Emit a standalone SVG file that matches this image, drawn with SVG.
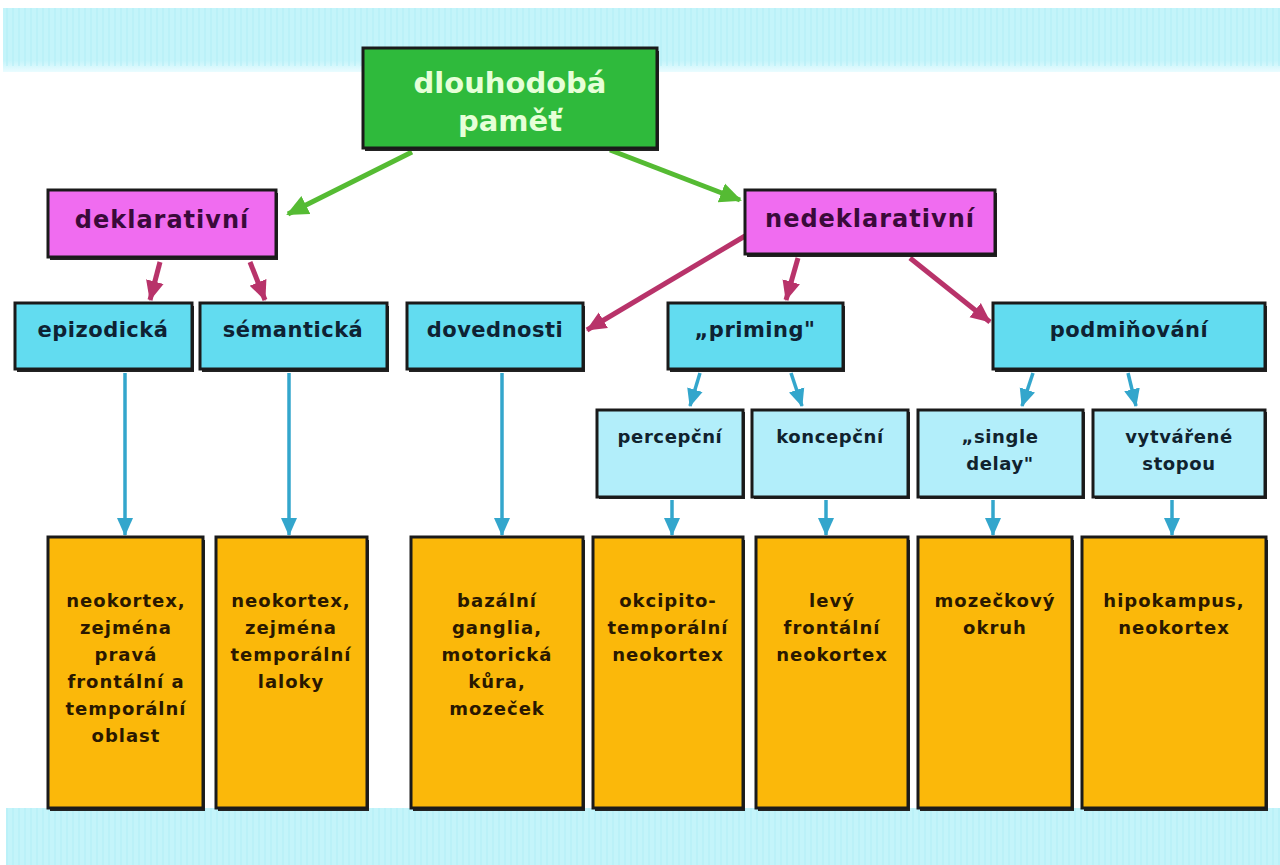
<svg xmlns="http://www.w3.org/2000/svg" width="1280" height="865" viewBox="0 0 1280 865">
<defs>
<style>
.band{fill:#c4f4fa}
.box{stroke:#1a1a1a;stroke-width:3}
.sh{fill:#222}
.g{fill:#2fba3c}
.m{fill:#f06cf0}
.c{fill:#62dcf0}
.lc{fill:#b2eefa}
.o{fill:#fbb80a}
text{font-family:"DejaVu Sans","Liberation Sans",sans-serif;font-weight:bold;text-anchor:middle}
.tg{font-size:29px;fill:#e6ffd8}
.tm{font-size:24px;fill:#3a0a3a;letter-spacing:1px}
.tc{font-size:21px;fill:#0e2233;letter-spacing:0.5px}
.tl{font-size:18px;fill:#10222e;letter-spacing:0.6px}
.to{font-size:18px;fill:#2a1800;letter-spacing:1px}
.ag{stroke:#55bb33;stroke-width:5;fill:none}
.am{stroke:#b8336a;stroke-width:5;fill:none}
.ab{stroke:#33a6cc;stroke-width:3.5;fill:none}
</style>
<marker id="hg" markerUnits="userSpaceOnUse" markerWidth="24" markerHeight="24" viewBox="0 0 24 24" refX="20" refY="12" orient="auto"><path d="M0,2 L22,12 L0,22 Z" fill="#55bb33"/></marker>
<marker id="hm" markerUnits="userSpaceOnUse" markerWidth="22" markerHeight="22" viewBox="0 0 22 22" refX="19" refY="11" orient="auto"><path d="M0,2 L20,11 L0,20 Z" fill="#b8336a"/></marker>
<marker id="hb" markerUnits="userSpaceOnUse" markerWidth="20" markerHeight="20" viewBox="0 0 20 20" refX="17" refY="10" orient="auto"><path d="M0,2 L18,10 L0,18 Z" fill="#33a6cc"/></marker>
<linearGradient id="fadeT" x1="0" y1="0" x2="0" y2="1"><stop offset="0" stop-color="#c4f4fa"/><stop offset="0.82" stop-color="#c4f4fa"/><stop offset="1" stop-color="#eafcff"/></linearGradient>
<pattern id="stripes" width="6" height="10" patternUnits="userSpaceOnUse"><rect x="0" width="2" height="10" fill="#b6eef6" opacity="0.6"/></pattern>
</defs>
<rect width="1280" height="865" fill="#ffffff"/>
<g id="bands">
<rect x="3" y="8" width="1277" height="64" fill="url(#fadeT)"/>
<rect x="3" y="8" width="1277" height="58" fill="url(#stripes)"/>
<rect x="6" y="808" width="1274" height="57" class="band"/>
<rect x="6" y="808" width="1274" height="57" fill="url(#stripes)"/>
</g>
<g id="connectors">
<path class="ag" d="M412,152 L288,214" marker-end="url(#hg)"/>
<path class="ag" d="M610,150 L740,200" marker-end="url(#hg)"/>
<path class="am" d="M160,262 L150,300" marker-end="url(#hm)"/>
<path class="am" d="M250,262 L265,300" marker-end="url(#hm)"/>
<path class="am" d="M745,236 L587,330" marker-end="url(#hm)"/>
<path class="am" d="M798,258 L786,300" marker-end="url(#hm)"/>
<path class="am" d="M910,258 L990,322" marker-end="url(#hm)"/>
<path class="ab" d="M125,373 L125,535" marker-end="url(#hb)"/>
<path class="ab" d="M289,373 L289,535" marker-end="url(#hb)"/>
<path class="ab" d="M502,373 L502,535" marker-end="url(#hb)"/>
<path class="ab" d="M700,373 L690,406" marker-end="url(#hb)"/>
<path class="ab" d="M791,373 L802,406" marker-end="url(#hb)"/>
<path class="ab" d="M1033,373 L1022,406" marker-end="url(#hb)"/>
<path class="ab" d="M1128,373 L1136,406" marker-end="url(#hb)"/>
<path class="ab" d="M672,500 L672,535" marker-end="url(#hb)"/>
<path class="ab" d="M826,500 L826,535" marker-end="url(#hb)"/>
<path class="ab" d="M993,500 L993,535" marker-end="url(#hb)"/>
<path class="ab" d="M1172,500 L1172,535" marker-end="url(#hb)"/>
</g>
<g id="n-dlouhodoba">
<rect x="365" y="51" width="294" height="100" class="sh"/>
<rect x="363" y="48" width="294" height="100" class="box g"/>
<text class="tg" x="510" y="93">dlouhodobá</text>
<text class="tg" x="510" y="131">paměť</text>
</g>
<g id="n-deklarativni">
<rect x="50" y="193" width="228" height="67" class="sh"/>
<rect x="48" y="190" width="228" height="67" class="box m"/>
<text class="tm" x="162" y="228">deklarativní</text>
</g>
<g id="n-nedeklarativni">
<rect x="747" y="193" width="250" height="64" class="sh"/>
<rect x="745" y="190" width="250" height="64" class="box m"/>
<text class="tm" x="870" y="227">nedeklarativní</text>
</g>
<g id="n-epizodicka">
<rect x="17" y="306" width="177" height="66" class="sh"/>
<rect x="15" y="303" width="177" height="66" class="box c"/>
<text class="tc" x="103" y="337">epizodická</text>
</g>
<g id="n-semanticka">
<rect x="202" y="306" width="187" height="66" class="sh"/>
<rect x="200" y="303" width="187" height="66" class="box c"/>
<text class="tc" x="293" y="337">sémantická</text>
</g>
<g id="n-dovednosti">
<rect x="409" y="306" width="176" height="66" class="sh"/>
<rect x="407" y="303" width="176" height="66" class="box c"/>
<text class="tc" x="495" y="337">dovednosti</text>
</g>
<g id="n-priming">
<rect x="670" y="306" width="175" height="66" class="sh"/>
<rect x="668" y="303" width="175" height="66" class="box c"/>
<text class="tc" x="755" y="337">„priming"</text>
</g>
<g id="n-podminovani">
<rect x="995" y="306" width="272" height="66" class="sh"/>
<rect x="993" y="303" width="272" height="66" class="box c"/>
<text class="tc" x="1129" y="337">podmiňování</text>
</g>
<g id="n-percepcni">
<rect x="599" y="412" width="146" height="87" class="sh"/>
<rect x="597" y="410" width="146" height="87" class="box lc"/>
<text class="tl" x="670" y="443">percepční</text>
</g>
<g id="n-koncepcni">
<rect x="754" y="412" width="156" height="87" class="sh"/>
<rect x="752" y="410" width="156" height="87" class="box lc"/>
<text class="tl" x="830" y="443">koncepční</text>
</g>
<g id="n-single-delay">
<rect x="920" y="412" width="165" height="87" class="sh"/>
<rect x="918" y="410" width="165" height="87" class="box lc"/>
<text class="tl" x="1000" y="443">„single</text>
<text class="tl" x="1000" y="470">delay"</text>
</g>
<g id="n-vytvarene">
<rect x="1095" y="412" width="172" height="87" class="sh"/>
<rect x="1093" y="410" width="172" height="87" class="box lc"/>
<text class="tl" x="1179" y="443">vytvářené</text>
<text class="tl" x="1179" y="470">stopou</text>
</g>
<g id="n-o1">
<rect x="50" y="540" width="155" height="271" class="sh"/>
<rect x="48" y="537" width="155" height="271" class="box o"/>
<text class="to" x="126" y="607">neokortex,</text>
<text class="to" x="126" y="634">zejména</text>
<text class="to" x="126" y="661">pravá</text>
<text class="to" x="126" y="688">frontální a</text>
<text class="to" x="126" y="715">temporální</text>
<text class="to" x="126" y="742">oblast</text>
</g>
<g id="n-o2">
<rect x="218" y="540" width="151" height="271" class="sh"/>
<rect x="216" y="537" width="151" height="271" class="box o"/>
<text class="to" x="291" y="607">neokortex,</text>
<text class="to" x="291" y="634">zejména</text>
<text class="to" x="291" y="661">temporální</text>
<text class="to" x="291" y="688">laloky</text>
</g>
<g id="n-o3">
<rect x="413" y="540" width="172" height="271" class="sh"/>
<rect x="411" y="537" width="172" height="271" class="box o"/>
<text class="to" x="497" y="607">bazální</text>
<text class="to" x="497" y="634">ganglia,</text>
<text class="to" x="497" y="661">motorická</text>
<text class="to" x="497" y="688">kůra,</text>
<text class="to" x="497" y="715">mozeček</text>
</g>
<g id="n-o4">
<rect x="595" y="540" width="150" height="271" class="sh"/>
<rect x="593" y="537" width="150" height="271" class="box o"/>
<text class="to" x="668" y="607">okcipito-</text>
<text class="to" x="668" y="634">temporální</text>
<text class="to" x="668" y="661">neokortex</text>
</g>
<g id="n-o5">
<rect x="758" y="540" width="152" height="271" class="sh"/>
<rect x="756" y="537" width="152" height="271" class="box o"/>
<text class="to" x="832" y="607">levý</text>
<text class="to" x="832" y="634">frontální</text>
<text class="to" x="832" y="661">neokortex</text>
</g>
<g id="n-o6">
<rect x="920" y="540" width="154" height="271" class="sh"/>
<rect x="918" y="537" width="154" height="271" class="box o"/>
<text class="to" x="995" y="607">mozečkový</text>
<text class="to" x="995" y="634">okruh</text>
</g>
<g id="n-o7">
<rect x="1084" y="540" width="184" height="271" class="sh"/>
<rect x="1082" y="537" width="184" height="271" class="box o"/>
<text class="to" x="1174" y="607">hipokampus,</text>
<text class="to" x="1174" y="634">neokortex</text>
</g>
</svg>
